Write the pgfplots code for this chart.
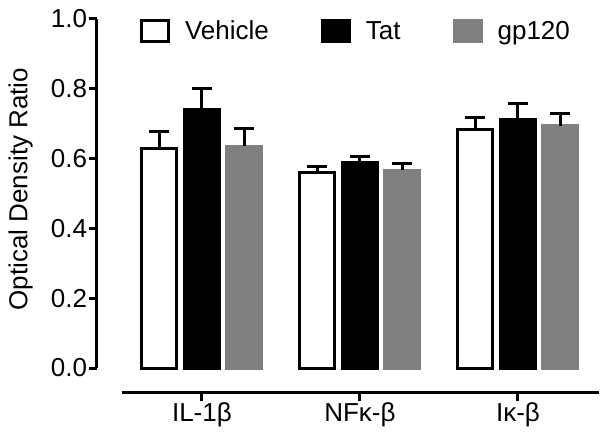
\documentclass[border=0pt]{standalone}
\usepackage{pgfplots}
\pgfplotsset{compat=1.18}
\usepackage{fontspec}
\setmainfont{Liberation Sans}
\definecolor{gpgray}{HTML}{808080}
\pgfplotsset{boxlegend/.style={legend image code/.code={\draw[##1,line width=3pt] (0pt,-10.5pt) rectangle (27pt,10.5pt); \path (40pt,0pt);}}}
\begin{document}
\begin{tikzpicture}
\begin{axis}[name=ax,
 scale only axis, width=502.3pt, height=374pt,
 xmin=-0.666, xmax=2.513, ymin=-0.0716, ymax=1,
 clip=false,
 axis x line*=bottom, axis y line*=left,
 x axis line style={draw=none}, y axis line style={draw=none},
 xtick={0,1,2}, xticklabels={IL-1β, NFκ-β, Iκ-β},
 ytick={0,0.2,0.4,0.6,0.8,1},
 yticklabel style={/pgf/number format/.cd, fixed, fixed zerofill, precision=1, assume math mode=true},
 tick label style={font=\fontsize{26}{31}\selectfont, inner sep=1.5pt},
 label style={font=\fontsize{26}{31}\selectfont},
 tick align=outside, major tick length=8pt, tick style={line width=3pt, black},
 ylabel={Optical Density Ratio},
 ylabel style={at={(axis description cs:-0.127,0.545)}, anchor=south, inner sep=0pt},
 ybar=7.5pt, bar width=35pt,
 legend columns=3,
 legend style={draw=none, fill=none, font=\fontsize{26}{31}\selectfont,
   at={(axis description cs:0.08,0.968)}, anchor=west,
   /tikz/every even column/.append style={column sep=50pt}},
]
\addplot[boxlegend, fill=white, draw=black, line width=3pt,
  error bars/.cd, y dir=plus, y explicit,
  error bar style={line width=3pt, black},
  error mark options={line width=3pt, mark size=10pt, rotate=90, black}]
  coordinates {(0,0.628) +- (0,0.051) (1,0.560) +- (0,0.017) (2,0.682) +- (0,0.037)};
\addlegendentry{Vehicle}
\addplot[boxlegend, fill=black, draw=black, line width=3pt,
  error bars/.cd, y dir=plus, y explicit,
  error bar style={line width=3pt, black},
  error mark options={line width=3pt, mark size=10pt, rotate=90, black}]
  coordinates {(0,0.741) +- (0,0.060) (1,0.589) +- (0,0.016) (2,0.711) +- (0,0.048)};
\addlegendentry{Tat}
\addplot[boxlegend, fill=gpgray, draw=gpgray, line width=3pt,
  error bars/.cd, y dir=plus, y explicit,
  error bar style={line width=3pt, black},
  error mark options={line width=3pt, mark size=10pt, rotate=90, black}]
  coordinates {(0,0.636) +- (0,0.051) (1,0.567) +- (0,0.018) (2,0.694) +- (0,0.034)};
\addlegendentry{gp120}
\draw[line width=3pt] (axis cs:-0.666,0) -- (axis cs:-0.666,1);
\draw[line width=3pt] (axis cs:-0.506,-0.0716) -- (axis cs:2.513,-0.0716);
\end{axis}
\pgfresetboundingbox
\path ([shift={(-96.7pt,-51pt)}]ax.south west) rectangle ([shift={(9pt,19pt)}]ax.north east);
\end{tikzpicture}
\end{document}
